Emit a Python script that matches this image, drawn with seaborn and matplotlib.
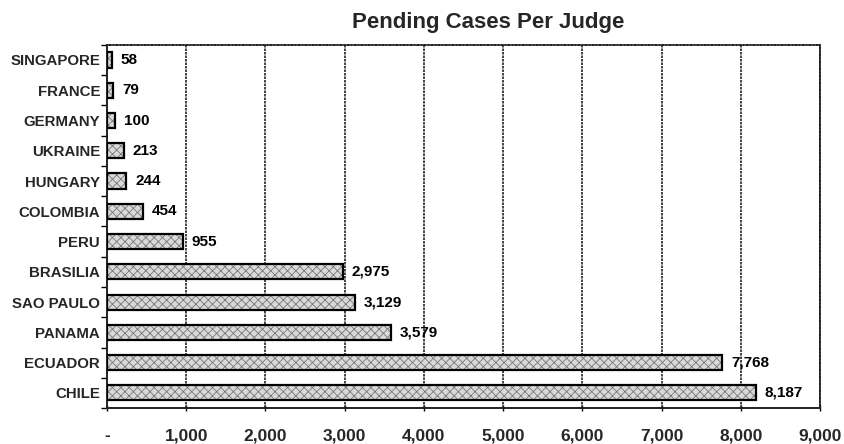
import matplotlib
matplotlib.use("Agg")
import matplotlib.pyplot as plt
import seaborn as sns
import pandas as pd
import numpy as np

countries = ["SINGAPORE", "FRANCE", "GERMANY", "UKRAINE", "HUNGARY", "COLOMBIA",
             "PERU", "BRASILIA", "SAO PAULO", "PANAMA", "ECUADOR", "CHILE"]
cases = [58, 79, 100, 213, 244, 454, 955, 2975, 3129, 3579, 7768, 8187]
xticks = [0, 1000, 2000, 3000, 4000, 5000, 6000, 7000, 8000, 9000]
xticklabels = ["-", "1,000", "2,000", "3,000", "4,000", "5,000", "6,000", "7,000", "8,000", "9,000"]

sns.set_theme(style="white")
plt.rcParams["font.family"] = ["Liberation Sans", "DejaVu Sans"]
plt.rcParams["hatch.linewidth"] = 0.6

df = pd.DataFrame({"country": countries, "cases": cases})

fig = plt.figure(figsize=(8.45, 4.44), dpi=100)
ax = fig.add_axes([0.1266, 0.081, 0.8438, 0.818])

sns.barplot(data=df, x="cases", y="country", orient="h", ax=ax,
            color="#d9d9d9", width=0.5, saturation=1, edgecolor="#777777",
            linewidth=0, hatch="xxxx", zorder=2)
sns.barplot(data=df, x="cases", y="country", orient="h", ax=ax,
            fill=False, width=0.5, edgecolor="black", linewidth=1.6, zorder=3)

for i, v in enumerate(cases):
    ax.text(v + 110, i, f"{v:,}", va="center", ha="left", fontsize=11,
            fontweight="bold", color="black")

ax.set_xlim(0, 9000)
ax.set_ylim(11.5, -0.5)
ax.set_xticks(xticks)
ax.set_xticklabels(xticklabels, fontsize=12.5, fontweight="bold")
ax.tick_params(axis="x", pad=12, length=5, width=1, color="black", direction="inout", bottom=True)
ax.tick_params(axis="y", which="major", length=0, pad=5)
ax.set_yticks(np.arange(-0.5, 12, 1), minor=True)
ax.tick_params(axis="y", which="minor", length=4, width=1, color="black", direction="out", left=True)
for lbl in ax.get_yticklabels():
    lbl.set_fontsize(10.8)
    lbl.set_fontweight("bold")
ax.set_xlabel("")
ax.set_ylabel("")

for x in xticks[1:]:
    ax.axvline(x, color="#222222", lw=1.2, ls=(0, (1.5, 0.6)), zorder=1)

for s in ax.spines.values():
    s.set_visible(True)
    s.set_color("#222222")
ax.spines["left"].set_linewidth(1.4)
ax.spines["bottom"].set_linewidth(1.4)
ax.spines["top"].set_linestyle((0, (1.5, 0.6)))
ax.spines["right"].set_linestyle((0, (1.5, 0.6)))
ax.spines["top"].set_linewidth(1.2)
ax.spines["right"].set_linewidth(1.2)

ax.set_title("Pending Cases Per Judge", fontsize=16, fontweight="bold", pad=12, x=0.535)

fig.savefig("out.png", dpi=100, facecolor="white")
